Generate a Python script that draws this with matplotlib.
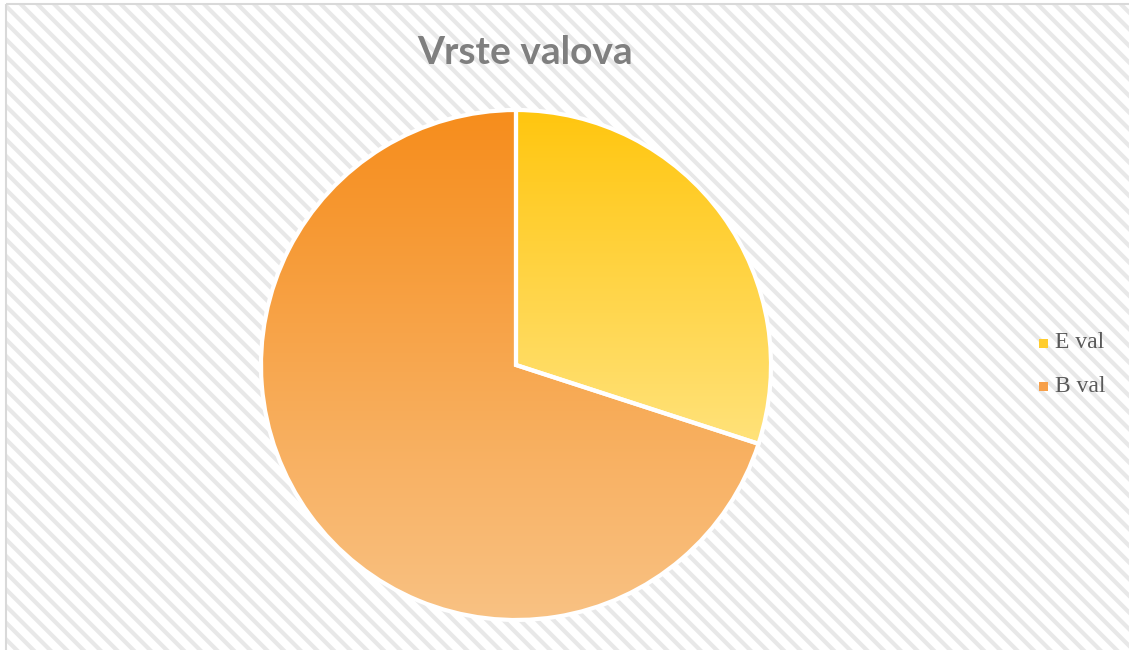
import matplotlib
matplotlib.use("Agg")
import matplotlib.pyplot as plt
import numpy as np
from matplotlib.colors import LinearSegmentedColormap
from matplotlib.patches import Rectangle

title = "Vrste valova"
labels = ["E val", "B val"]
values = [30, 70]
top_colors = ["#ffc60f", "#f68d1c"]
bottom_colors = ["#ffe27a", "#f9c284"]

W, H = 1129, 650
plt.rcParams['hatch.linewidth'] = 3.0
fig = plt.figure(figsize=(W / 100, H / 100), dpi=100)
fig.patch.set_facecolor("white")

# background with diagonal stripes
bg = fig.add_axes([0, 0, 1, 1])
bg.set_xlim(0, W)
bg.set_ylim(H, 0)
bg.axis("off")
bg.add_patch(Rectangle((6, 4), W + 20, H + 20, facecolor="white",
                       edgecolor="#e8e8e8", hatch="\\\\", linewidth=0))
bg.add_patch(Rectangle((6, 4), W + 20, H + 20, facecolor="none",
                       edgecolor="#d9d9d9", linewidth=1.5))

# pie
cx, cy, r = 516, 365, 255
ax = fig.add_axes([(cx - r) / W, (H - cy - r) / H, 2 * r / W, 2 * r / H])
wedges, _ = ax.pie(values, startangle=90, counterclock=False,
                   wedgeprops=dict(edgecolor="white", linewidth=3, facecolor="none"))
ax.set_aspect("equal")
ax.axis("off")

grad = np.linspace(0, 1, 256).reshape(-1, 1)
for w, tc, bc in zip(wedges, top_colors, bottom_colors):
    cmap = LinearSegmentedColormap.from_list("g", [tc, bc])
    verts = w.get_path().vertices
    ext = w.get_patch_transform().transform(verts)
    y0, y1 = ext[:, 1].min(), ext[:, 1].max()
    im = ax.imshow(grad, cmap=cmap, extent=[-1, 1, y0, y1], origin="upper",
                   aspect="auto", zorder=0)
    im.set_clip_path(w)
    w.set_zorder(2)
ax.set_xlim(-1.0, 1.0)
ax.set_ylim(-1.0, 1.0)

# title
fig.text(525 / W, 1 - 52 / H, title, ha="center", va="center",
         fontsize=28, fontweight="bold", color="#7f7f7f", family="Lato")

# legend
leg_colors = ["#ffcd2e", "#f7a04a"]
for i, (lab, col) in enumerate(zip(labels, leg_colors)):
    y = 343 + i * 43
    bg.add_patch(Rectangle((1039, y - 4.5), 9, 9, facecolor=col, edgecolor="none"))
    bg.text(1055, y, lab, ha="left", va="center", fontsize=17,
            color="#595959", family="Liberation Serif")

fig.savefig("out.png", dpi=100)
